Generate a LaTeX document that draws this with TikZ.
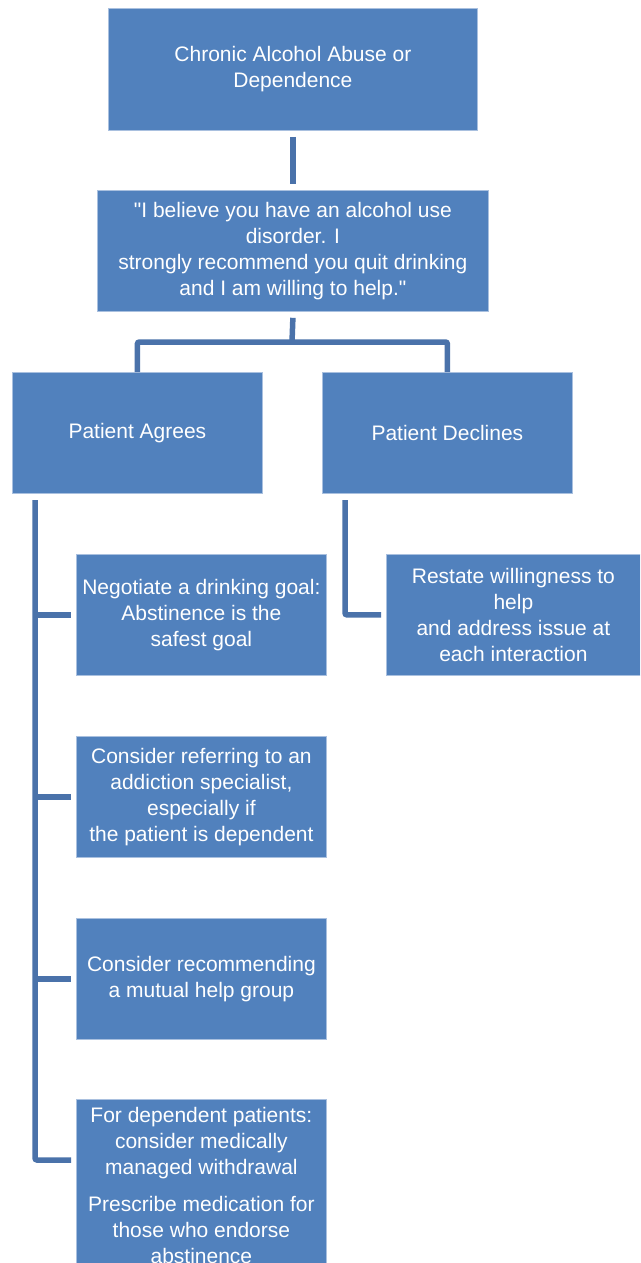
\documentclass[tikz,border=0pt]{standalone}
\usepackage{fontspec}
\newfontfamily\boxfont{Liberation Sans}
\definecolor{boxfill}{HTML}{5181BD}
\definecolor{boxedge}{HTML}{A9C0DF}
\definecolor{linkcol}{HTML}{4A72AA}
\begin{document}
\begin{tikzpicture}[x=1pt,y=-1pt,
  box/.style={draw=boxedge,line width=0.8pt,fill=boxfill,text=white,align=center,
    inner sep=0pt,font=\boxfont\fontsize{21}{26}\selectfont,anchor=north west},
  link/.style={draw=linkcol,line width=5.5pt,rounded corners=2pt}]
\useasboundingbox (0,0) rectangle (640,1263);
\clip (0,0) rectangle (640,1263);
\fill[white] (0,0) rectangle (640,1263);
\node[box,minimum width=369,minimum height=122] (top) at (108,8) {Chronic Alcohol Abuse or\\Dependence};
\node[box,minimum width=391,minimum height=121] (q) at (97,190) {"I believe you have an alcohol use\\disorder. I\\strongly recommend you quit drinking\\and I am willing to help."};
\node[box,minimum width=250,minimum height=121] (agree) at (12,372) {Patient Agrees};
\node[box,minimum width=250,minimum height=121] (decl) at (322,372) {Patient Declines};
\node[box,minimum width=250,minimum height=121] (b1) at (76,554) {Negotiate a drinking goal:\\Abstinence is the\\safest goal};
\node[box,minimum width=254,minimum height=121] (r1) at (386,554) {Restate willingness to\\help\\and address issue at\\each interaction};
\node[box,minimum width=250,minimum height=121] (b2) at (76,736) {Consider referring to an\\addiction specialist,\\especially if\\the patient is dependent};
\node[box,minimum width=250,minimum height=121] (b3) at (76,918) {Consider recommending\\a mutual help group};
\node[box,minimum width=250,minimum height=172] (b4) at (76,1099) {For dependent patients:\\consider medically\\managed withdrawal\\[11pt]Prescribe medication for\\those who endorse\\abstinence};
\coordinate (j) at (292,342);
\coordinate (sp) at (35,500);
\coordinate (sr) at (345,500);
\draw[link] ([yshift=-6pt]top.south) -- ([yshift=6pt]q.north);
\draw[link] ([yshift=-6pt]q.south) -- (j);
\draw[link] (agree.north) |- (j) -| (decl.north);
\draw[link] (sp) |- ([xshift=-5pt,yshift=-61pt]b4.north west);
\draw[link] (sp |- b1.west) -- ([xshift=-5pt]b1.west);
\draw[link] (sp |- b2.west) -- ([xshift=-5pt]b2.west);
\draw[link] (sp |- b3.west) -- ([xshift=-5pt]b3.west);
\draw[link] (sr) |- ([xshift=-5pt]r1.west);
\end{tikzpicture}
\end{document}
